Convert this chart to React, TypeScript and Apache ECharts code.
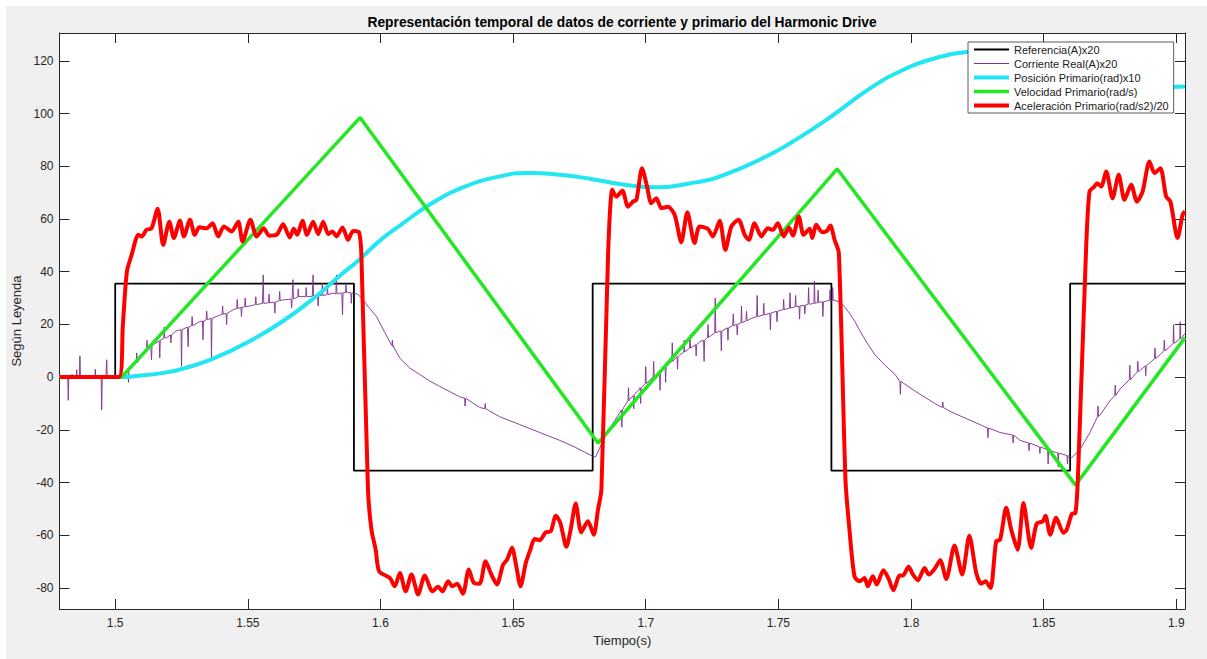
import React, { useEffect, useRef } from "react";
import * as echarts from "echarts";

const titleText = "Representación temporal de datos de corriente y primario del Harmonic Drive";
const xName = "Tiempo(s)";
const yName = "Según Leyenda";
const seriesNames = [
  "Referencia(A)x20",
  "Corriente Real(A)x20",
  "Posición Primario(rad)x10",
  "Velocidad Primario(rad/s)",
  "Aceleración Primario(rad/s2)/20",
];
const xTicks = [1.5, 1.55, 1.6, 1.65, 1.7, 1.75, 1.8, 1.85, 1.9];
const yTicks = [-80, -60, -40, -20, 0, 20, 40, 60, 80, 100, 120];
const xRange = [1.479, 1.9033];
const yRange = [-88, 130.6];

const referencia = [
  [1.479, 0], [1.5, 0], [1.5, 35.5], [1.59, 35.5], [1.59, -35.5], [1.68, -35.5],
  [1.68, 35.5], [1.77, 35.5], [1.77, -35.5], [1.86, -35.5], [1.86, 35.5], [1.9033, 35.5],
];

const corrienteBase = [
  [1.479, 0], [1.4837, 1], [1.4897, -0.5], [1.4965, 0.5], [1.501, 0.5], [1.5025, 0], [1.5037, 1],
  [1.5048, 3], [1.5068, 4.1], [1.5104, 8.5], [1.5134, 12], [1.5166, 13.8], [1.5194, 15],
  [1.5229, 17.5], [1.5272, 19], [1.53, 20], [1.5319, 21.1], [1.5361, 22.3], [1.5391, 23.4],
  [1.5445, 25.6], [1.5508, 27], [1.5555, 28], [1.5599, 28.5], [1.5632, 29.3], [1.5696, 30.6],
  [1.5743, 30.7], [1.5779, 31], [1.5821, 31.9], [1.5854, 32], [1.5877, 32.2], [1.5897, 31.9],
  [1.5914, 31.5], [1.5934, 29.4], [1.596, 26], [1.5985, 23], [1.6016, 17], [1.6047, 11.6],
  [1.6073, 7.2], [1.611, 3.5], [1.6148, 1], [1.6186, -1.5], [1.6223, -3.5], [1.6261, -5.5],
  [1.6299, -7.5], [1.6374, -11.5], [1.6449, -15], [1.6525, -18], [1.66, -21], [1.6676, -24],
  [1.6732, -26.5], [1.677, -28.5], [1.68, -30], [1.6811, -30.3], [1.6826, -27], [1.6845, -23],
  [1.6864, -19.5], [1.6883, -16.5], [1.6902, -13.5], [1.692, -11], [1.6939, -8.5], [1.6958, -6.5],
  [1.6977, -4.5], [1.7016, -1], [1.7054, 2.5], [1.7092, 5.5], [1.7129, 8.5], [1.7167, 11],
  [1.7205, 13.5], [1.7243, 15.5], [1.728, 17.5], [1.7318, 19], [1.7356, 20.5], [1.7393, 22],
  [1.7431, 23.2], [1.7469, 24.3], [1.7507, 25.3], [1.7544, 26.2], [1.7582, 27], [1.762, 27.7],
  [1.7656, 28.4], [1.7687, 29], [1.771, 29.2], [1.7732, 28.5], [1.7751, 26.5], [1.777, 24],
  [1.7789, 21], [1.7808, 17.5], [1.7834, 13], [1.7864, 8.5], [1.7902, 4.5], [1.794, 1],
  [1.7959, -1.5], [1.7996, -4], [1.8034, -6.5], [1.809, -10], [1.8147, -13], [1.8203, -15.5],
  [1.826, -18], [1.8335, -21], [1.8411, -24], [1.8486, -26.5], [1.8543, -28.5], [1.858, -29.5],
  [1.8607, -30.5], [1.8637, -27.5], [1.8675, -21], [1.8712, -14.5], [1.875, -9], [1.8788, -4.5],
  [1.8825, -1], [1.8863, 2.5], [1.8901, 5.5], [1.8939, 8.5], [1.8976, 11.5], [1.9007, 14],
  [1.9033, 16.5],
];

// [time, base value, spike value]
const corrienteSpikes = [
  [1.4823, 0, -8.8], [1.4855, 0, 2.8], [1.4867, 0, 8.1], [1.4925, 0, 3], [1.4949, 0, -12.4],
  [1.4968, 0.5, 6.6], [1.505, 3, -2], [1.5081, 5.5, 9.2], [1.512, 10, 14], [1.5137, 12, 6.6],
  [1.5168, 14, 7.3], [1.5185, 14.8, 19], [1.521, 16, 13], [1.525, 18, 4.1], [1.5275, 19, 11.6],
  [1.529, 19.5, 23], [1.5331, 21.3, 14.2], [1.5345, 21.8, 25], [1.5363, 22.3, 7.2],
  [1.5405, 23.8, 27], [1.542, 24.2, 19.9], [1.546, 26, 29.5], [1.5476, 26.5, 23],
  [1.549, 26.7, 30], [1.553, 27.5, 30.5], [1.5558, 28, 38.8], [1.558, 28.2, 31.5],
  [1.5602, 28.5, 24.3], [1.562, 29, 32.5], [1.5665, 29.6, 26.2], [1.567, 29.7, 37],
  [1.569, 30.4, 33.5], [1.572, 30.5, 34], [1.5746, 30.7, 38.8], [1.5765, 30.8, 27],
  [1.5781, 31, 35.7], [1.58, 31.3, 34.5], [1.5834, 31.6, 38.8], [1.5857, 32, 23.7],
  [1.587, 32.1, 35], [1.589, 32, 28],
  [1.6045, 12, 14], [1.6319, -8, -11], [1.6395, -12, -10],
  [1.691, -12.5, -19], [1.6935, -9, -4], [1.6955, -7, -12], [1.6981, -4, -10], [1.7, -2.5, 4],
  [1.703, 0, 6], [1.7054, 2.5, -5], [1.7075, 4, -2], [1.71, 6, 13], [1.712, 7.8, 3],
  [1.7145, 9.5, 14], [1.7167, 11, 16], [1.719, 12.3, 8], [1.722, 14, 6], [1.7235, 15, 20],
  [1.7262, 16.8, 30], [1.7285, 17.5, 10], [1.731, 18.7, 14], [1.733, 19.5, 24],
  [1.7345, 20, 16], [1.7361, 20.6, 27], [1.738, 21.4, 25], [1.742, 23, 31], [1.7445, 23.6, 28],
  [1.747, 24.3, 18], [1.7495, 25, 21], [1.752, 25.6, 29.5], [1.7544, 26.2, 32],
  [1.7565, 26.7, 31], [1.758, 27, 22], [1.76, 27.3, 24], [1.7614, 27.7, 34], [1.7636, 28, 36.5],
  [1.765, 28.3, 33], [1.7668, 28.6, 23], [1.7695, 29, 33], [1.7705, 29.1, 34],
  [1.796, -1.6, -6.5], [1.812, -11.5, -9.5], [1.829, -19.3, -23], [1.8385, -22, -25],
  [1.8445, -25, -28], [1.8486, -26.5, -29], [1.8517, -27.6, -33], [1.8555, -28.8, -34],
  [1.859, -29.8, -33],
  [1.8705, -15, -11], [1.877, -7, -3], [1.8825, -1, 4.5], [1.8855, 2, 6], [1.8885, 4.3, 0.5],
  [1.892, 7, 11], [1.8955, 10, 14], [1.899, 12.8, 20], [1.9015, 14.5, 21],
];

const posicion = [
  [1.479, 0], [1.5024, 0], [1.5068, 0.3], [1.5194, 1.8], [1.5256, 3.2], [1.5369, 7],
  [1.5508, 13.7], [1.5633, 21.3], [1.5759, 30.8], [1.5847, 38.5], [1.5916, 44.2],
  [1.6, 52], [1.6073, 57.5], [1.6186, 65.5], [1.6299, 71.5], [1.645, 76.2], [1.6563, 77.5],
  [1.6676, 76.8], [1.6789, 75.3], [1.6902, 73.3], [1.7027, 72.1], [1.7165, 73.5],
  [1.7291, 76.6], [1.7467, 84.4], [1.758, 91], [1.7693, 98.5], [1.7844, 109.5], [1.7957, 116],
  [1.8107, 121.5], [1.822, 123.5], [1.832, 124], [1.847, 120.5], [1.8625, 116.5],
  [1.8738, 113.5], [1.885, 111], [1.8925, 110], [1.9033, 110.3],
];

const velocidad = [
  [1.479, 0], [1.5024, 0], [1.5923, 98.5], [1.682, -25], [1.7722, 79], [1.862, -41], [1.9033, 15],
];

const aceleracion = [
  [1.479, 0], [1.5014, 0], [1.5029, 20], [1.5044, 40], [1.5062, 46.4], [1.5087, 54],
  [1.51, 53.4], [1.5118, 55.9], [1.5137, 56.5], [1.516, 63.9], [1.5181, 50.2], [1.5204, 59],
  [1.5221, 52.8], [1.5244, 59.3], [1.5259, 53.4], [1.5282, 59.7], [1.53, 54], [1.5317, 56.9],
  [1.5344, 56.5], [1.5367, 58.4], [1.5388, 53.4], [1.541, 57.2], [1.5439, 55.3], [1.5464, 59],
  [1.548, 51.5], [1.551, 59.7], [1.5533, 53.4], [1.556, 56.5], [1.558, 53.7], [1.5608, 54],
  [1.5633, 58], [1.5658, 53], [1.5673, 56.3], [1.5686, 54], [1.5706, 59.3], [1.5723, 54],
  [1.5746, 59], [1.5765, 54.3], [1.5784, 59], [1.5803, 54.3], [1.5819, 55.3], [1.5834, 53.4],
  [1.5857, 56.8], [1.5878, 52.1], [1.5897, 55.5], [1.5919, 55], [1.5928, 46.4],
  [1.5953, -42.7], [1.5966, -57.9], [1.5982, -65.5], [1.5995, -73.7], [1.6035, -76.2],
  [1.6054, -79.4], [1.6073, -74.3], [1.6095, -81.3], [1.6117, -74.9], [1.6142, -82.5],
  [1.6167, -75.3], [1.6196, -81.3], [1.6217, -79.6], [1.6234, -81.3], [1.6255, -77.5],
  [1.6271, -79.4], [1.6289, -78.4], [1.6311, -82.2], [1.6333, -73], [1.6352, -78.1],
  [1.6374, -78.4], [1.6396, -69.9], [1.6418, -74.9], [1.6439, -78.7], [1.6462, -71.2],
  [1.6477, -69.3], [1.6496, -64.8], [1.6512, -71.8], [1.6528, -79.4], [1.6548, -70.5],
  [1.6565, -65.5], [1.6581, -61.4], [1.66, -61.9], [1.6623, -58.9], [1.6642, -58.5],
  [1.6661, -52.6], [1.6678, -55.3], [1.6701, -64.4], [1.6717, -57.9], [1.6736, -48],
  [1.6757, -58.9], [1.6782, -54.7], [1.6804, -59.8], [1.682, -50.3], [1.6833, -42.7],
  [1.6858, 46.4], [1.6874, 71.1], [1.6889, 68.5], [1.6912, 70.7], [1.6933, 64.7],
  [1.6952, 66.6], [1.6965, 67.3], [1.6986, 79.3], [1.7005, 72.3], [1.7021, 66], [1.704, 67.9],
  [1.7059, 64.1], [1.7084, 64.7], [1.7109, 61.6], [1.7134, 51.2], [1.7157, 62.6],
  [1.7184, 50.9], [1.7203, 57.2], [1.7234, 56.3], [1.7253, 53.4], [1.7279, 59.3],
  [1.73, 48.3], [1.7323, 57.2], [1.735, 59.7], [1.7373, 54], [1.7389, 52.1], [1.741, 58.4],
  [1.7436, 53.4], [1.746, 56.5], [1.7479, 55.9], [1.7498, 58.4], [1.752, 53.4], [1.754, 56.8],
  [1.7555, 53.7], [1.7577, 61], [1.7595, 54], [1.7618, 56.3], [1.7628, 52.8], [1.7643, 57.8],
  [1.7665, 55], [1.7683, 55.5], [1.7696, 57.5], [1.7712, 52.1], [1.7728, 47.1],
  [1.7753, -38.9], [1.7768, -57.9], [1.7787, -75.6], [1.7806, -77.5], [1.7825, -76.2],
  [1.7837, -79.4], [1.7856, -75.6], [1.7871, -78.7], [1.7896, -73.3], [1.7916, -76.6],
  [1.7934, -80.9], [1.7957, -75.3], [1.7969, -75.3], [1.7991, -72], [1.8007, -74.9],
  [1.8026, -77.1], [1.8051, -72.4], [1.8067, -74.9], [1.8089, -72.8], [1.811, -69.5],
  [1.8133, -76.6], [1.8164, -63.9], [1.8193, -74.9], [1.822, -60.2], [1.8246, -74.3],
  [1.8265, -78.4], [1.8281, -77.5], [1.83, -80], [1.8321, -62.3], [1.8336, -61.7],
  [1.8359, -49.6], [1.8378, -57.9], [1.8402, -65.5], [1.8424, -47.8], [1.8453, -64.8],
  [1.8474, -55.6], [1.8497, -54.7], [1.8507, -52.6], [1.8525, -59.8], [1.8547, -53.4],
  [1.8575, -59.1], [1.8587, -57.9], [1.8607, -51.8], [1.862, -51.5], [1.8629, -38.9],
  [1.866, 48.3], [1.8673, 70.4], [1.8691, 72.3], [1.8702, 73.6], [1.8717, 72.3],
  [1.8736, 78], [1.876, 67.9], [1.8783, 76.8], [1.8805, 67.3], [1.883, 73], [1.8852, 66.6],
  [1.8873, 70.4], [1.8899, 81.8], [1.8918, 77.4], [1.894, 79.3], [1.8962, 68.5],
  [1.8978, 66.6], [1.9005, 52.8], [1.9024, 61.6], [1.9033, 63],
];

const seriesColors = ["#000000", "#7e2f8e", "#22e6f2", "#22e822", "#ff0000"];
const seriesWidths = [1.8, 0.9, 4, 3.5, 4];

const FONT = "'Liberation Sans', Arial, Helvetica, sans-serif";
const AXIS_COLOR = "#262626";

function buildCorriente() {
  const pts: number[][] = corrienteBase.map((p) => [p[0], p[1]]);
  const d = 0.0002;
  corrienteSpikes.forEach(([t, b, v]) => {
    pts.push([t - d, b], [t, v], [t + d, b]);
  });
  pts.sort((a, b) => a[0] - b[0]);
  return pts;
}

const fmtX = (v: number) => String(parseFloat(Number(v).toFixed(3)));

export default function App() {
  const ref = useRef<HTMLDivElement>(null);
  useEffect(() => {
    if (!ref.current) return;
    const chart = echarts.init(ref.current, undefined, { renderer: "svg" });
    const xBase = {
      type: "value",
      min: xRange[0],
      max: xRange[1],
      splitLine: { show: false },
      axisLine: { show: true, onZero: false, lineStyle: { color: AXIS_COLOR, width: 1 } },
      axisTick: { show: true, inside: true, length: 10, customValues: xTicks, lineStyle: { color: AXIS_COLOR } },
    };
    const yBase = {
      type: "value",
      min: yRange[0],
      max: yRange[1],
      splitLine: { show: false },
      axisLine: { show: true, onZero: false, lineStyle: { color: AXIS_COLOR, width: 1 } },
      axisTick: { show: true, inside: true, length: 10, customValues: yTicks, lineStyle: { color: AXIS_COLOR } },
    };
    const lineSeries = (i: number, data: number[][], extra: any = {}) => ({
      name: seriesNames[i],
      type: "line",
      data,
      showSymbol: false,
      symbol: "none",
      lineStyle: { color: seriesColors[i], width: seriesWidths[i] },
      itemStyle: { color: seriesColors[i] },
      ...extra,
    });
    const option: any = {
      animation: false,
      backgroundColor: "#f0f0f0",
      textStyle: { fontFamily: FONT },
      grid: {
        left: 53.5, top: 27, right: 22, bottom: 50,
        containLabel: false, outerBoundsMode: "none",
        show: true, backgroundColor: "#ffffff", borderWidth: 0,
      },
      graphic: [
        {
          type: "text",
          x: 616,
          y: 16,
          style: {
            text: titleText,
            font: `bold 13.8px ${FONT}`,
            fill: "#000",
            textAlign: "center",
            textVerticalAlign: "middle",
          },
        },
      ],
      legend: {
        orient: "vertical",
        left: 962,
        top: 36,
        data: seriesNames.map((n, i) => ({
          name: n,
          lineStyle: { width: seriesWidths[i] < 1.5 ? 1 : seriesWidths[i], color: seriesColors[i], opacity: 1 },
        })),
        backgroundColor: "#ffffff",
        borderColor: "#333",
        borderWidth: 0.8,
        borderRadius: 0,
        padding: [2, 5, 2, 4],
        itemWidth: 35,
        itemHeight: 13,
        itemGap: 3,
        itemStyle: { opacity: 0, borderWidth: 0 },
        textStyle: { fontFamily: FONT, fontSize: 11, color: "#1a1a1a" },
      },
      xAxis: [
        {
          ...xBase,
          position: "bottom",
          name: xName,
          nameLocation: "middle",
          nameGap: 24,
          nameTextStyle: { fontFamily: FONT, fontSize: 13, color: AXIS_COLOR },
          axisLabel: { show: true, customValues: xTicks, formatter: fmtX, margin: 8, fontSize: 12, color: AXIS_COLOR, fontFamily: FONT },
        },
        { ...xBase, position: "top", axisLabel: { show: false } },
      ],
      yAxis: [
        {
          ...yBase,
          position: "left",
          name: yName,
          nameLocation: "middle",
          nameGap: 24,
          nameTextStyle: { fontFamily: FONT, fontSize: 13, color: AXIS_COLOR },
          axisLabel: { show: true, customValues: yTicks, margin: 6, fontSize: 12, color: AXIS_COLOR, fontFamily: FONT },
        },
        { ...yBase, position: "right", axisLabel: { show: false } },
      ],
      series: [
        lineSeries(0, referencia),
        lineSeries(1, buildCorriente()),
        lineSeries(2, posicion, { smooth: 0.5 }),
        lineSeries(3, velocidad),
        lineSeries(4, aceleracion, { smooth: 0.25 }),
      ],
    };
    chart.setOption(option);
    return () => chart.dispose();
  }, []);
  return (
    <div style={{ position: "absolute", left: 0, top: 0, width: 1207, height: 659, background: "#ffffff" }}>
      <div ref={ref} style={{ position: "absolute", left: 6, top: 6, width: 1201, height: 653 }} />
    </div>
  );
}
